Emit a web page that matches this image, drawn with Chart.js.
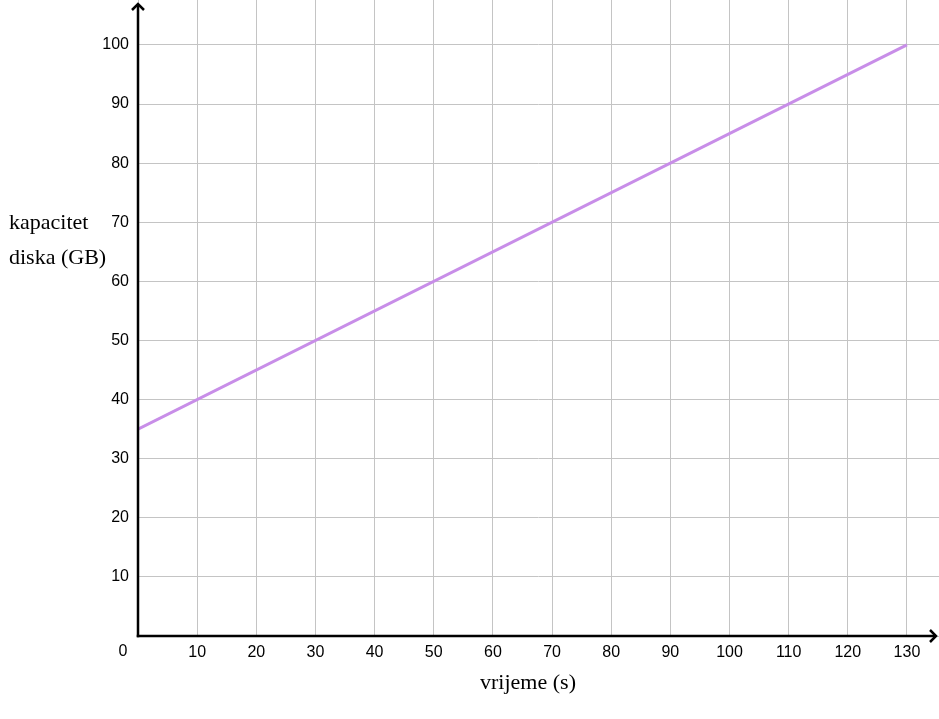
<!DOCTYPE html>
<html>
<head>
<meta charset="utf-8">
<script src="https://cdn.jsdelivr.net/npm/chart.js@4/dist/chart.umd.min.js"></script>
<style>
html,body{margin:0;padding:0;background:#fff;}
canvas{display:block;}
</style>
</head>
<body>
<canvas id="c" width="939" height="719"></canvas>
<script>
// Data
const timeValues = [0, 130];          // vrijeme (s)
const capacityValues = [35, 100];     // kapacitet diska (GB)
const xTickValues = [0, 10, 20, 30, 40, 50, 60, 70, 80, 90, 100, 110, 120, 130];
const yTickValues = [0, 10, 20, 30, 40, 50, 60, 70, 80, 90, 100];
const xTitle = 'vrijeme (s)';
const yTitleLines = ['kapacitet', 'diska (GB)'];

const points = timeValues.map((t, i) => ({x: t, y: capacityValues[i]}));

const axesPlugin = {
  id: 'axesPlugin',
  afterDraw(chart) {
    const ctx = chart.ctx;
    const a = chart.chartArea;
    const xs = chart.scales.x, ys = chart.scales.y;
    const ox = xs.getPixelForValue(0), oy = ys.getPixelForValue(0);
    ctx.save();
    ctx.strokeStyle = '#000';
    ctx.lineWidth = 2.5;
    ctx.lineCap = 'butt';
    // y axis
    ctx.beginPath();
    ctx.moveTo(ox, oy + 1.25);
    ctx.lineTo(ox, a.top + 4);
    ctx.stroke();
    ctx.beginPath();
    ctx.moveTo(ox - 6, a.top + 10);
    ctx.lineTo(ox, a.top + 4);
    ctx.lineTo(ox + 6, a.top + 10);
    ctx.stroke();
    // x axis
    ctx.beginPath();
    ctx.moveTo(ox - 1.25, oy);
    ctx.lineTo(a.right - 3, oy);
    ctx.stroke();
    ctx.beginPath();
    ctx.moveTo(a.right - 9, oy - 6);
    ctx.lineTo(a.right - 3, oy);
    ctx.lineTo(a.right - 9, oy + 6);
    ctx.stroke();
    // origin label
    ctx.fillStyle = '#000';
    ctx.font = '16px "Liberation Sans", Arial, sans-serif';
    ctx.textAlign = 'center';
    ctx.textBaseline = 'top';
    ctx.fillText('0', ox - 15, oy + 8);
    // titles
    ctx.font = '22px "Liberation Serif", "Times New Roman", serif';
    ctx.textBaseline = 'alphabetic';
    ctx.textAlign = 'center';
    ctx.fillText(xTitle, 528, 689);
    ctx.textAlign = 'left';
    ctx.fillText(yTitleLines[0], 9, 229);
    ctx.fillText(yTitleLines[1], 9, 264);
    ctx.restore();
  }
};

new Chart(document.getElementById('c'), {
  type: 'line',
  data: {
    datasets: [{
      data: points,
      borderColor: '#c88ee8',
      borderWidth: 3,
      pointRadius: 0,
      fill: false,
      tension: 0
    }]
  },
  options: {
    responsive: false,
    animation: false,
    layout: {padding: 0},
    plugins: {legend: {display: false}, tooltip: {enabled: false}},
    scales: {
      x: {
        type: 'linear',
        min: 0,
        max: 135.42,
        afterFit(scale) { scale.height = 83; scale.paddingLeft = 0; scale.paddingRight = 0; },
        afterBuildTicks(scale) { scale.ticks = xTickValues.map(v => ({value: v})); },
        ticks: {
          padding: 7,
          maxRotation: 0,
          autoSkip: false,
          color: '#000',
          font: {family: '"Liberation Sans", Arial, sans-serif', size: 16},
          callback: (v) => v === 0 ? '' : String(v)
        },
        grid: {color: '#c4c4c4', lineWidth: 1, drawTicks: false},
        border: {display: false}
      },
      y: {
        type: 'linear',
        min: 0,
        max: 107.6,
        afterFit(scale) { scale.width = 138; scale.paddingTop = 0; scale.paddingBottom = 0; },
        afterBuildTicks(scale) { scale.ticks = yTickValues.map(v => ({value: v})); },
        ticks: {
          padding: 9,
          autoSkip: false,
          color: '#000',
          font: {family: '"Liberation Sans", Arial, sans-serif', size: 16},
          callback: (v) => v === 0 ? '' : String(v)
        },
        grid: {color: '#c4c4c4', lineWidth: 1, drawTicks: false},
        border: {display: false}
      }
    }
  },
  plugins: [axesPlugin]
});
</script>
</body>
</html>
